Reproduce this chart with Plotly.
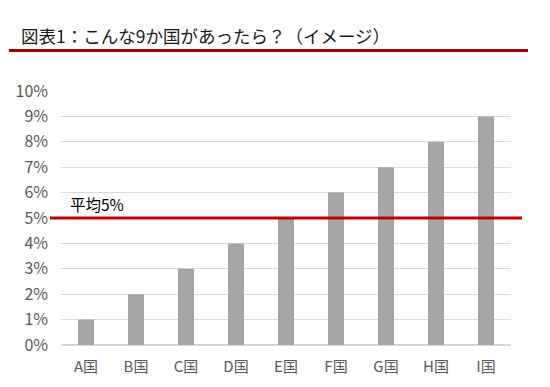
import plotly.graph_objects as go

categories = ["A国", "B国", "C国", "D国", "E国", "F国", "G国", "H国", "I国"]
values = [0.01, 0.02, 0.03, 0.04, 0.05, 0.06, 0.07, 0.08, 0.09]
average = 0.05
avg_label = "平均5%"
title_text = "図表1：こんな9か国があったら？（イメージ）"

# page offset (body margin) of 8px accounted for
OFF = 8
W, H = 550, 387
L, R, T, B = 61 - OFF, W - (511 - OFF), 91 - OFF, H - (345 - OFF)
pw, ph = W - L - R, H - T - B

def px_x(x):
    return (x - OFF - L) / pw

def px_y(y):
    return (H - B - (y - OFF)) / ph

font = "Noto Sans CJK JP, Noto Sans, sans-serif"

fig = go.Figure()
fig.add_trace(go.Bar(x=categories, y=values, marker_color="#a5a5a5",
                     marker_line_width=0, width=0.32, hoverinfo="skip"))

fig.add_shape(type="line", xref="paper", yref="y", x0=px_x(50), x1=px_x(522),
              y0=average, y1=average, line=dict(color="#c00000", width=3))
fig.add_shape(type="line", xref="paper", yref="paper", x0=px_x(9), x1=px_x(528),
              y0=px_y(50.5), y1=px_y(50.5), line=dict(color="#a00000", width=3))

fig.add_annotation(xref="paper", yref="paper", x=px_x(19), y=px_y(36),
                   xanchor="left", yanchor="middle", text=title_text, showarrow=False,
                   font=dict(family=font, size=17.5, color="#1a1a1a"))
fig.add_annotation(xref="paper", yref="y", x=px_x(68), y=average,
                   xanchor="left", yanchor="bottom", yshift=1, text=avg_label, showarrow=False,
                   font=dict(family=font, size=15.5, color="#000000"))

fig.update_layout(
    width=W, height=H, margin=dict(l=L, r=R, t=T, b=B),
    paper_bgcolor="white", plot_bgcolor="white", showlegend=False,
    bargap=0.68,
    font=dict(family=font, color="#595959", size=14),
)
fig.update_yaxes(range=[0, 0.1], dtick=0.01, tickformat=".0%", showgrid=True,
                 gridcolor="#d9d9d9", gridwidth=1, zeroline=True, zerolinecolor="#d9d9d9",
                 showline=False, ticks="", ticklabelstandoff=12, automargin=False,
                 tickfont=dict(size=16, color="#595959"))
fig.update_xaxes(showline=False, ticks="", tickfont=dict(size=15, color="#595959"),
                 ticklabelstandoff=11, automargin=False)

fig.write_html("out.html")
